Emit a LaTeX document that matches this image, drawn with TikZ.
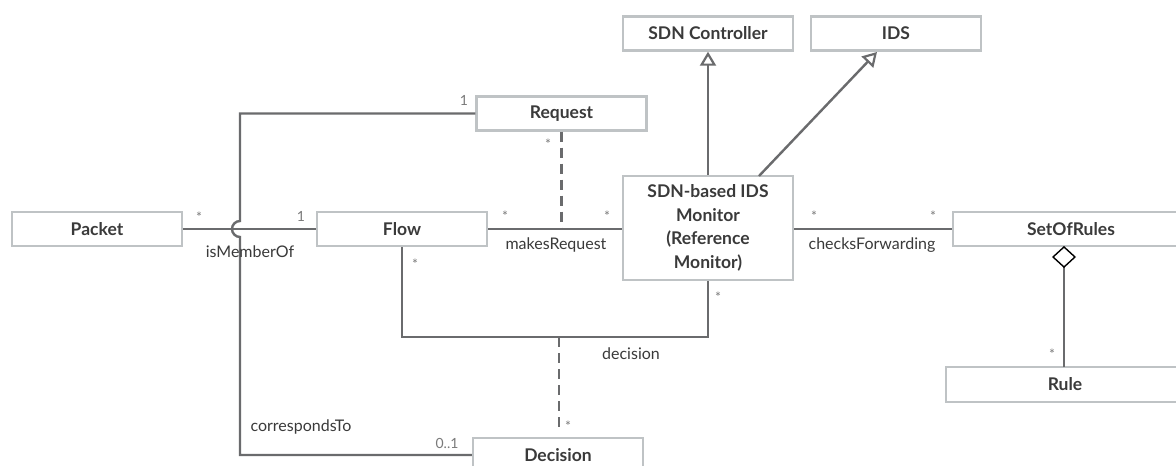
\documentclass[tikz,border=0pt]{standalone}
\usepackage{fontspec}
\setmainfont{Lato}
\usetikzlibrary{arrows.meta}
\definecolor{boxgray}{HTML}{BFC3C5}
\definecolor{linegray}{HTML}{6A6B6D}
\definecolor{textdark}{HTML}{3A3A3A}
\definecolor{multgray}{HTML}{7A7A7A}
\tikzset{
  umlbox/.style={draw=boxgray, line width=2.4pt, minimum width=170pt, minimum height=34pt, inner sep=0pt,
    font=\bfseries\fontsize{17.5}{23.5}\selectfont, text=textdark, align=center},
  conn/.style={draw=linegray, line width=2.4pt},
  dconn/.style={conn, dash pattern=on 10pt off 6pt},
  lbl/.style={font=\fontsize{16}{18}\selectfont, text=textdark, inner sep=0pt},
  mult/.style={font=\fontsize{14}{16}\selectfont, text=multgray, inner sep=0pt},
  gen/.style={-{Triangle[open, length=14pt, width=16pt, line width=2.2pt]}},
  agg/.style={-{Diamond[open, length=22pt, width=24pt, line width=1.4pt, color=black]}}
}
\begin{document}
\begin{tikzpicture}[x=1pt, y=-1pt]
\useasboundingbox (0,0) rectangle (1176,466);
\fill[white] (0,0) rectangle (1176,466);
\begin{scope}
\clip (0,0) rectangle (1176,466);
% boxes
\node[umlbox] (packet) at (97,229) {Packet};
\node[umlbox] (flow) at (402,229) {Flow};
\node[umlbox] (request) at (561.5,113.5) {Request};
\node[umlbox] (ctrl) at (708,33.5) {SDN Controller};
\node[umlbox] (ids) at (896,33.5) {IDS};
\node[umlbox, minimum height=104pt] (mon) at (708,228) {SDN-based IDS\\Monitor\\(Reference\\Monitor)};
\node[umlbox, minimum width=236pt] (sor) at (1071,229) {SetOfRules};
\node[umlbox, minimum width=238pt, minimum height=35pt] (rule) at (1065,384.5) {Rule};
\node[umlbox] (decision) at (558,455) {Decision};

% coordinates
\coordinate (hopT) at (240,221);
\coordinate (hopB) at (240,237);
\coordinate (fbot) at (402,337);
\coordinate (dtop) at (559,337);
\coordinate (dend) at (559,432);
\coordinate (aggx) at (1064,246);
\coordinate (aggb) at (1064,367);
\coordinate (idsS) at (877,52);
\coordinate (monN) at (759,176);

% connectors
\draw[conn] (packet.east) -- (flow.west);
\draw[conn] (request.west) -| (hopT) arc[start angle=90, end angle=270, radius=8pt] |- (decision.west);
\draw[conn] (flow.east) -- (flow.east -| mon.west);
\draw[dconn] (request.south) -- (request.south |- flow.east);
\draw[conn] (flow.south) -- (fbot) -| (mon.south);
\draw[dconn] (dtop) -- (dend);
\draw[conn] (mon.east |- sor.west) -- (sor.west);
\draw[conn, gen] (mon.north) -- (ctrl.south);
\draw[conn, gen] (monN) -- (idsS);
\draw[conn, agg] (aggb) -- (aggx);

% labels
\node[mult] (m1) at (199,217) {*};
\node[mult] (m2) at (301,216) {1};
\node[lbl] (l1) at (250,252) {isMemberOf};
\node[mult] (m3) at (464,100) {1};
\node[mult] (m4) at (548,144) {*};
\node[mult] (m5) at (505,216) {*};
\node[mult] (m6) at (607,216) {*};
\node[lbl] (l2) at (556,245) {makesRequest};
\node[mult] (m7) at (415,264) {*};
\node[mult] (m8) at (718,297) {*};
\node[lbl] (l3) at (631,354) {decision};
\node[mult] (m9) at (568,426) {*};
\node[lbl] (l4) at (301,427) {correspondsTo};
\node[mult] (m10) at (447,443) {0..1};
\node[mult] (m11) at (814,216) {*};
\node[mult] (m12) at (933,216) {*};
\node[lbl] (l5) at (872,245) {checksForwarding};
\node[mult] (m13) at (1052,354) {*};
\end{scope}
\end{tikzpicture}
\end{document}
